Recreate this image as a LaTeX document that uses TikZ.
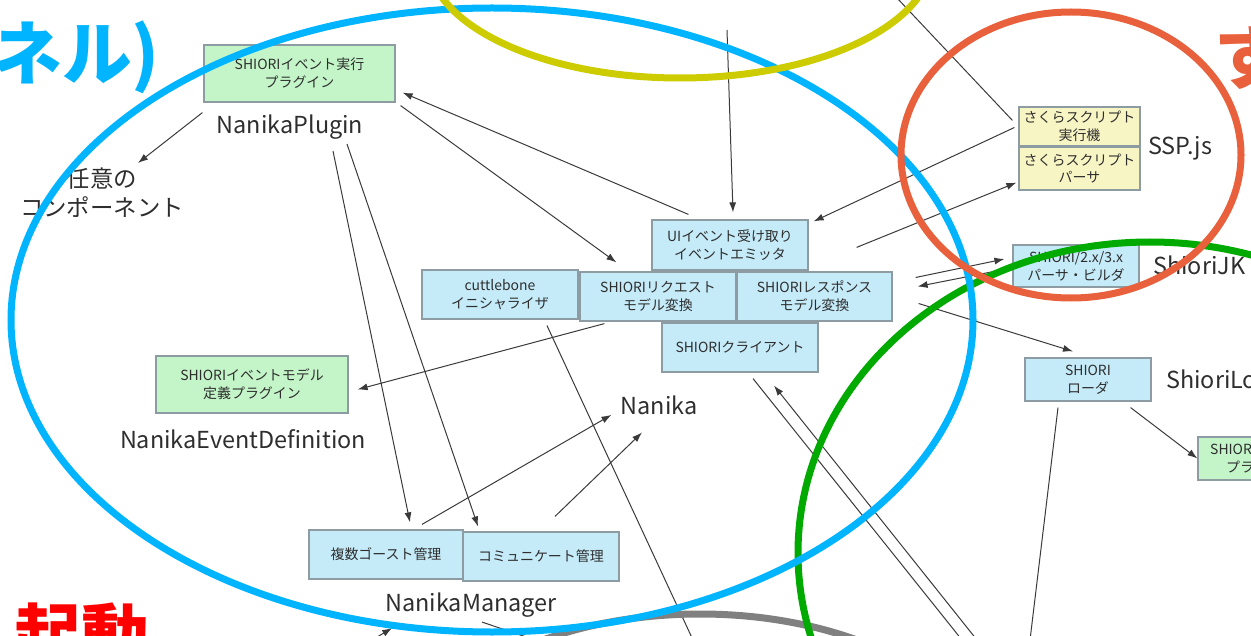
\documentclass[tikz,border=0pt]{standalone}
\usepackage{fontspec}
\setmainfont{Noto Sans CJK JP}
\usepackage{xcolor}
\usetikzlibrary{arrows.meta,calc}

\definecolor{boxblue}{HTML}{C5EBF9}
\definecolor{boxgreen}{HTML}{C4F5C8}
\definecolor{boxyellow}{HTML}{F8F5C4}
\definecolor{boxedge}{HTML}{8C9CA2}
\definecolor{textgray}{HTML}{2E2E2E}
\definecolor{linegray}{HTML}{3A3A3A}
\definecolor{ringblue}{HTML}{00B4FF}
\definecolor{ringyellow}{HTML}{CCCC00}
\definecolor{ringorange}{HTML}{E8603C}
\definecolor{ringgreen}{HTML}{00AA00}
\definecolor{ringgray}{HTML}{808080}

\begin{document}
\begin{tikzpicture}[x=1bp, y=-1bp,
    box/.style={draw=boxedge, fill=boxblue, line width=1.2bp, minimum width=156bp, minimum height=49bp, inner sep=0pt, align=center, text=textgray, font=\fontsize{14}{18}\selectfont},
    plugbox/.style={box, fill=boxgreen},
    sspbox/.style={box, fill=boxyellow, minimum width=121bp},
    lbl/.style={inner sep=0pt, text=textgray, font=\fontsize{23.5}{29}\selectfont},
    arr/.style={draw=linegray, line width=1bp, -{Latex[length=10bp,width=7bp]}},
    ln/.style={draw=linegray, line width=1bp},
    ring/.style={line width=7bp}]
    \useasboundingbox (0,0) rectangle (1251,636);
    \clip (0,0) rectangle (1251,636);

    % Titles
    \node[inner sep=0pt, anchor=base east, text=ringblue, font=\fontsize{70}{70}\selectfont\bfseries] (paneltitle) at (160,80) {ネル)};
    \node[inner sep=0pt, anchor=base west, text=red, font=\fontsize{68}{68}\selectfont\bfseries] (boottitle) at (14,660) {起動};
    \node[inner sep=0pt, anchor=base west, text=ringorange, font=\fontsize{70}{70}\selectfont\bfseries] (sutitle) at (1214,84) {す};

    % Boxes
    \node[plugbox, minimum width=191bp, minimum height=57bp] (plugin) at (299.5,73.5) {SHIORIイベント実行\\プラグイン};
    \node[box, minimum height=50bp] (ui) at (730,245) {UIイベント受け取り\\イベントエミッタ};
    \node[box] (cuttle) at (500,294.5) {cuttlebone\\イニシャライザ};
    \node[box] (req) at (658,296.5) {SHIORIリクエスト\\モデル変換};
    \node[box, minimum width=155bp] (res) at (814.5,296.5) {SHIORIレスポンス\\モデル変換};
    \node[box] (client) at (740,347.5) {SHIORIクライアント};
    \node[plugbox, minimum width=192bp, minimum height=57bp] (evdef) at (252,384.5) {SHIORIイベントモデル\\定義プラグイン};
    \node[box, minimum width=154bp] (multi) at (386,554.5) {複数ゴースト管理};
    \node[box] (comm) at (541,556.5) {コミュニケート管理};
    \node[sspbox, minimum height=39bp] (sspexec) at (1079.5,126.5) {さくらスクリプト\\実行機};
    \node[sspbox, minimum height=43bp] (ssppars) at (1079.5,168.5) {さくらスクリプト\\パーサ};
    \node[box, minimum width=126bp, minimum height=42bp] (jk) at (1076,266) {SHIORI/2.x/3.x\\パーサ・ビルダ};
    \node[box, minimum width=126bp, minimum height=43bp] (loader) at (1088,379.5) {SHIORI\\ローダ};
    \node[plugbox, minimum width=126bp, minimum height=43bp] (subplug) at (1261,458.5) {SHIORIイベント\\プラグイン};

    % Labels
    \node[lbl, anchor=base] (pluginlbl) at (290,134) {NanikaPlugin};
    \node[lbl, align=center] (anyc) at (102,193) {任意の\\コンポーネント};
    \node[lbl, anchor=base] (evdeflbl) at (243,448) {NanikaEventDefinition};
    \node[lbl, anchor=base] (nanika) at (659,414) {Nanika};
    \node[lbl, anchor=base] (mgrlbl) at (471,611) {NanikaManager};
    \node[lbl, anchor=base west] (ssplbl) at (1148,155) {SSP.js};
    \node[lbl, anchor=base west] (jklbl) at (1153,275) {ShioriJK};
    \node[lbl, anchor=base west] (loaderlbl) at (1166,388) {ShioriLoader};

    % Free ends
    \coordinate (topin) at (727,30);
    \coordinate (topssp) at (897,-2);
    \coordinate (downcuttle) at (693,640);
    \coordinate (downclient) at (962,640);
    \coordinate (upclient) at (977,640);
    \coordinate (downloader) at (1030,640);
    \coordinate (upmgr) at (372,640);
    \coordinate (downmgr) at (535,640);

    % Arrows
    \draw[arr] ([shift={(-1,10)}]plugin.south west) -- ([shift={(36,-5)}]anyc.north);
    \draw[arr] ([shift={(37,-5)}]ui.north west) -- ([shift={(7,-10)}]plugin.south east);
    \draw[arr] ([shift={(5,3)}]plugin.south east) -- ([shift={(37,-9)}]req.north west);
    \draw[arr] (topin) -- ([shift={(3,-7)}]ui.north);
    \draw[arr] ([shift={(-4,1)}]sspexec.west) -- ([shift={(5,2)}]ui.north east);
    \draw[arr] ([shift={(-36,-24)}]res.north east) -- ([shift={(-2,-8)}]ssppars.south west);
    \draw[ln] (topssp) -- ([shift={(-6,14)}]sspexec.north west);
    \draw[arr] ([shift={(23,-19)}]res.east) -- ([shift={(-8,-7)}]jk.west);
    \draw[arr] ([shift={(-1,2)}]jk.west) -- ([shift={(25,-10)}]res.east);
    \draw[arr] ([shift={(26,7)}]res.east) -- ([shift={(-15,-6)}]loader.north);
    \draw[arr] ([shift={(-21,6)}]loader.south east) -- (subplug.west);
    \draw[ln] ([shift={(-30,6)}]loader.south) -- (downloader);
    \draw[ln] ([shift={(13,6)}]client.south) -- (downclient);
    \draw[arr] (upclient) -- ([shift={(34,13)}]client.south);
    \draw[arr] ([shift={(43,11)}]pluginlbl.south) -- ([shift={(24,-7)}]multi.north);
    \draw[arr] ([shift={(57,4)}]pluginlbl.south) -- ([shift={(-63,-5)}]comm.north);
    \draw[arr] ([shift={(36,-5)}]multi.north) -- ([shift={(-9,10)}]nanika.west);
    \draw[arr] ([shift={(14,-15)}]comm.north) -- ([shift={(-17,18)}]nanika.south);
    \draw[arr] ([shift={(25,2)}]req.south west) -- ([shift={(9,5)}]evdef.east);
    \draw[ln] ([shift={(47,6)}]cuttle.south) -- (downcuttle);
    \draw[arr] (upmgr) -- ([shift={(7,11)}]mgrlbl.south west);
    \draw[ln] ([shift={(11,5)}]mgrlbl.south) -- (downmgr);

    % Circles
    \draw[ring, draw=ringgray] (700,790) ellipse [x radius=300, y radius=176];
    \draw[ring, draw=ringgreen] (1150,553) ellipse [x radius=352, y radius=311];
    \draw[ring, draw=ringblue] (492,320) ellipse [x radius=481, y radius=312];
    \draw[ring, draw=ringyellow] (680,-42) ellipse [x radius=252, y radius=120];
    \draw[ring, draw=ringorange] (1071,155) ellipse [x radius=170, y radius=143];
\end{tikzpicture}
\end{document}
